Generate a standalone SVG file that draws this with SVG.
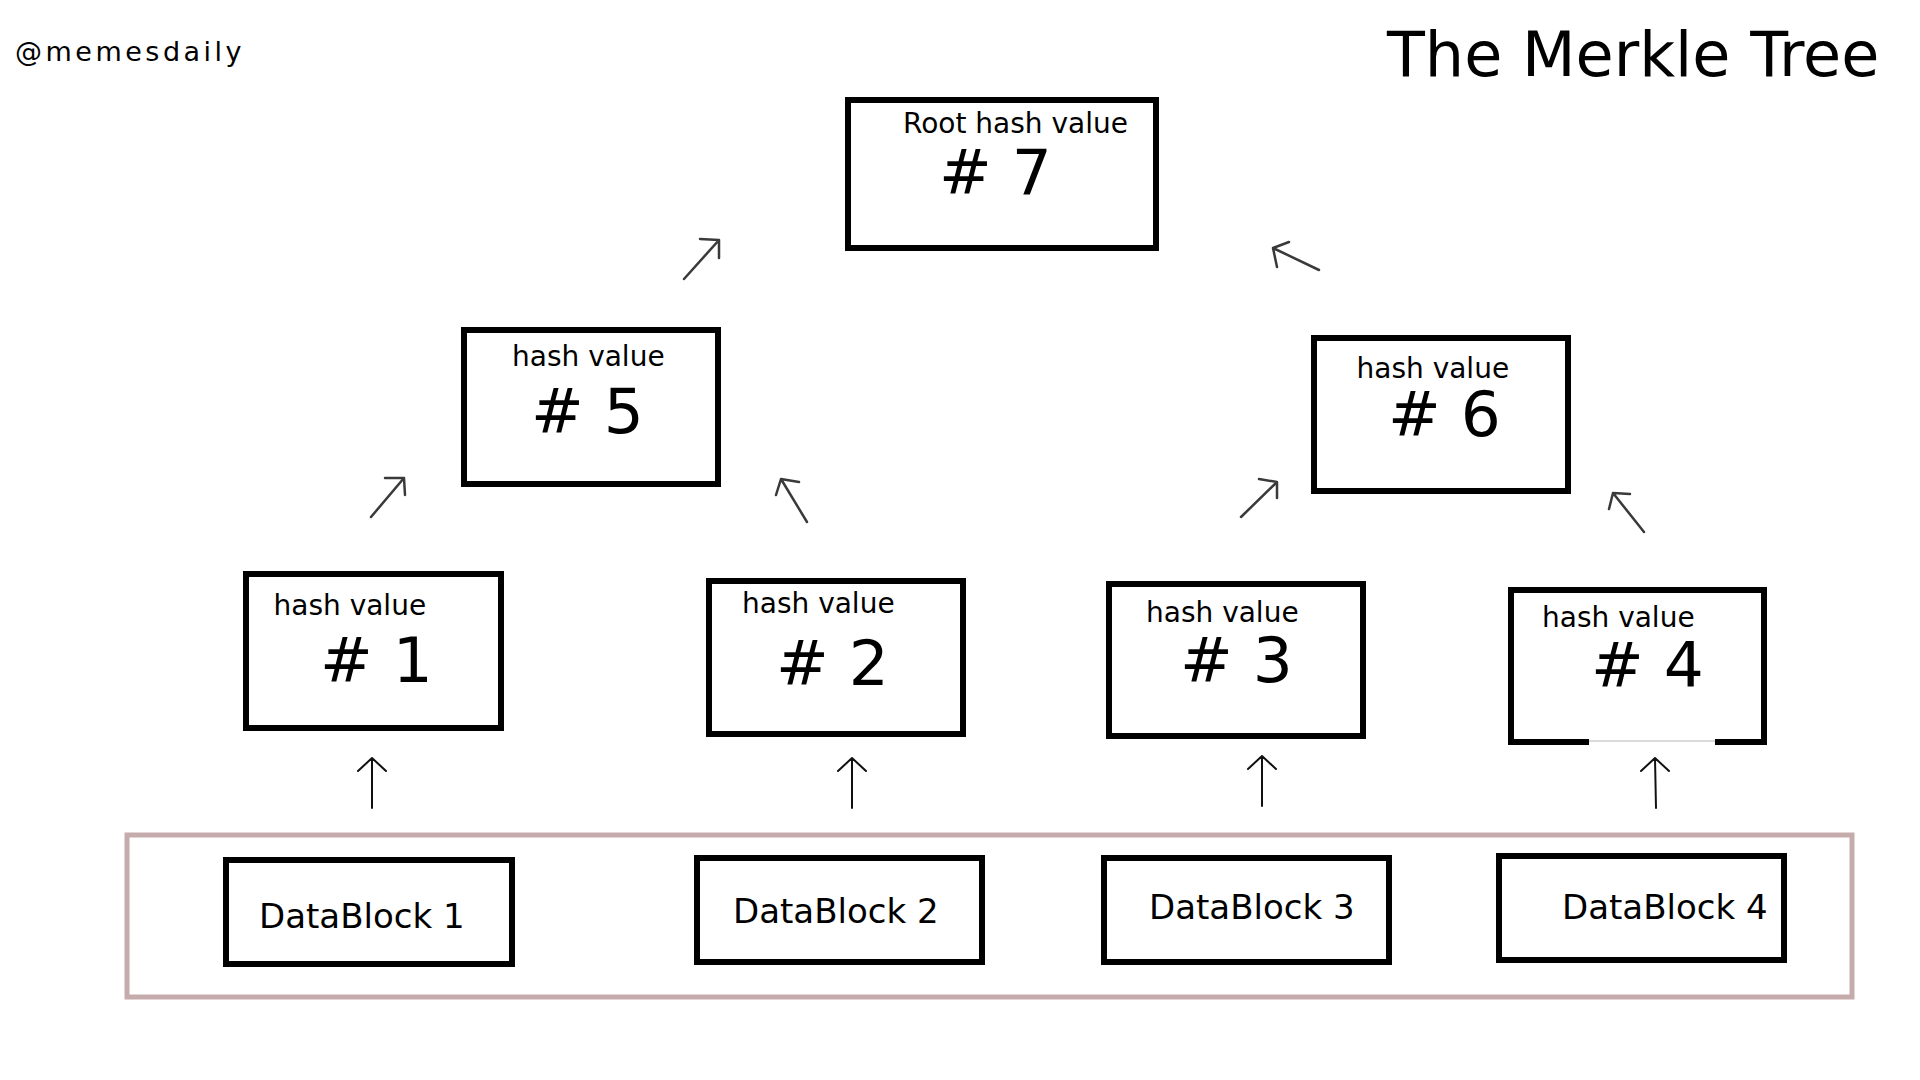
<svg xmlns="http://www.w3.org/2000/svg" width="1920" height="1080" viewBox="0 0 1920 1080">
<defs>
<style>
.box{fill:#fff;stroke:#000;stroke-width:6}
.cont{fill:none;stroke:#c5abab;stroke-width:5}
.t{font-family:"DejaVu Sans","Liberation Sans",sans-serif;fill:#000}
.lbl{font-size:28px}
.num{font-size:63px}
.db{font-size:34px}
.arr{fill:none;stroke:#3a3a3a;stroke-width:2.5;stroke-linecap:round;stroke-linejoin:round}
.up{fill:none;stroke:#111;stroke-width:2;stroke-linecap:round;stroke-linejoin:round}
</style>
</defs>
<rect width="1920" height="1080" fill="#fff"/>
<text class="t" x="15" y="61" font-size="27" letter-spacing="3.5" fill="#111">@memesdaily</text>
<text class="t" x="1387" y="76" font-size="62">The Merkle Tree</text>

<g id="container">
<rect class="cont" x="127" y="835" width="1725" height="162"/>
</g>

<g id="root">
<rect class="box" x="848" y="100" width="308" height="148"/>
<text class="t lbl" x="903" y="133">Root hash value</text>
<text class="t num" x="939" y="194"># 7</text>
</g>
<g id="hash5">
<rect class="box" x="464" y="330" width="254" height="154"/>
<text class="t lbl" x="512" y="366">hash value</text>
<text class="t num" x="531" y="433"># 5</text>
</g>
<g id="hash6">
<rect class="box" x="1314" y="338" width="254" height="153"/>
<text class="t lbl" x="1356.5" y="378">hash value</text>
<text class="t num" x="1388" y="436"># 6</text>
</g>
<g id="hash1">
<rect class="box" x="246" y="574" width="255" height="154"/>
<text class="t lbl" x="273.5" y="615">hash value</text>
<text class="t num" x="320" y="682"># 1</text>
</g>
<g id="hash2">
<rect class="box" x="709" y="581" width="254" height="153"/>
<text class="t lbl" x="742" y="613">hash value</text>
<text class="t num" x="776" y="685"># 2</text>
</g>
<g id="hash3">
<rect class="box" x="1109" y="584" width="254" height="152"/>
<text class="t lbl" x="1146" y="622">hash value</text>
<text class="t num" x="1180" y="682"># 3</text>
</g>
<g id="hash4">
<rect x="1511" y="590" width="253" height="152" fill="#fff"/>
<path d="M1589,742 H1511 V590 H1764 V742 H1715" fill="none" stroke="#000" stroke-width="6"/>
<path d="M1589,741 H1715" stroke="#cfcfcf" stroke-width="1.5"/>
<text class="t lbl" x="1542" y="627">hash value</text>
<text class="t num" x="1591" y="687"># 4</text>
</g>

<g id="db1">
<rect class="box" x="226" y="860" width="286" height="104"/>
<text class="t db" x="259" y="928">DataBlock 1</text>
</g>
<g id="db2">
<rect class="box" x="697" y="858" width="285" height="104"/>
<text class="t db" x="733" y="923">DataBlock 2</text>
</g>
<g id="db3">
<rect class="box" x="1104" y="858" width="285" height="104"/>
<text class="t db" x="1149" y="919">DataBlock 3</text>
</g>
<g id="db4">
<rect class="box" x="1499" y="856" width="285" height="104"/>
<text class="t db" x="1562" y="919">DataBlock 4</text>
</g>

<g id="connectors">
<path class="arr" d="M684,279 L719,240 M700,239 L719,240 L719,258"/>
<path class="arr" d="M1319,270 L1273,248 M1289,242 L1273,248 L1277,267"/>
<path class="arr" d="M371,517 L404,478 M385,478 L404,478 L405,495"/>
<path class="arr" d="M807,522 L781,479 M799,482 L781,479 L776,495"/>
<path class="arr" d="M1241,517 L1277,482 M1259,479 L1277,482 L1277,498"/>
<path class="arr" d="M1644,532 L1613,493 M1630,494 L1613,493 L1609,509"/>
<path class="up" d="M372,808 L372,758 M358,771 L372,758 L386,771"/>
<path class="up" d="M852,808 L852,758 M838,771 L852,758 L866,771"/>
<path class="up" d="M1262,806 L1262,756 M1248,769 L1262,756 L1276,769"/>
<path class="up" d="M1656,808 L1655,758 M1641,771 L1655,758 L1669,771"/>
</g>
</svg>
